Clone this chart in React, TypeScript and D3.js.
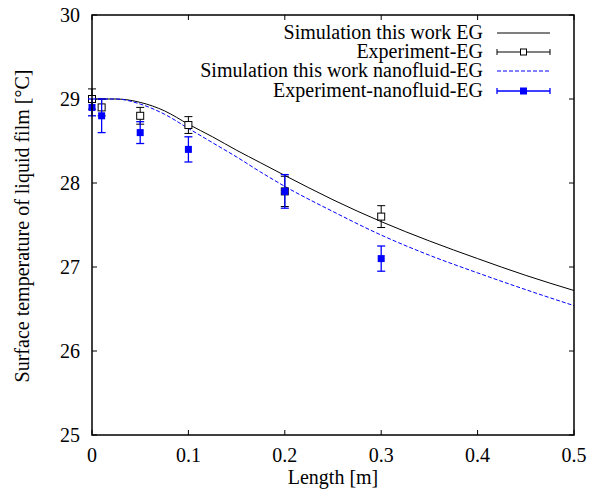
import React from "react";
import * as d3 from "d3";

const simX = [0, 0.025, 0.05, 0.075, 0.1, 0.125, 0.15, 0.175, 0.2, 0.25, 0.3, 0.35, 0.4, 0.45, 0.5];
const simEG = [29.0, 29.0, 28.96, 28.86, 28.7, 28.55, 28.39, 28.24, 28.09, 27.8, 27.54, 27.31, 27.1, 26.9, 26.72];
const simNF = [29.0, 29.0, 28.94, 28.82, 28.65, 28.48, 28.31, 28.13, 27.96, 27.66, 27.38, 27.14, 26.93, 26.73, 26.54];

const expX = [0, 0.01, 0.05, 0.1, 0.2, 0.3];
const expEG = [29.0, 28.9, 28.8, 28.69, 27.9, 27.6];
const expEGErr = [0.12, 0.1, 0.1, 0.1, 0.18, 0.13];
const expNF = [28.9, 28.8, 28.6, 28.4, 27.9, 27.1];
const expNFErr = [0.1, 0.2, 0.13, 0.15, 0.2, 0.15];

const xTicks = [0, 0.1, 0.2, 0.3, 0.4, 0.5];
const yTicks = [25, 26, 27, 28, 29, 30];
const legendLabels = [
  "Simulation this work EG",
  "Experiment-EG",
  "Simulation this work nanofluid-EG",
  "Experiment-nanofluid-EG",
];

const W = 591, H = 501;
const L = 92, R = 574, T = 15, B = 435;
const FONT = "Liberation Serif, Times New Roman, Times, DejaVu Serif, serif";
const BLUE = "#0000ff";

export default function App() {
  const x = d3.scaleLinear().domain([0, 0.5]).range([L, R]);
  const y = d3.scaleLinear().domain([25, 30]).range([B, T]);
  const line = d3
    .line<number>()
    .x((_, i) => x(simX[i]))
    .y((d) => y(d))
    .curve(d3.curveMonotoneX);

  const errBar = (xi: number, v: number, e: number, color: string, key: string, sw = 1) => {
    const cx = x(xi);
    return (
      <g key={key} stroke={color} strokeWidth={sw}>
        <line x1={cx} x2={cx} y1={y(v - e)} y2={y(v + e)} />
        <line x1={cx - 4} x2={cx + 4} y1={y(v - e)} y2={y(v - e)} />
        <line x1={cx - 4} x2={cx + 4} y1={y(v + e)} y2={y(v + e)} />
      </g>
    );
  };

  const legY = [33, 52, 71, 91];
  const legTextX = 483;
  const ls0 = 497, ls1 = 550;
  const ts = { fontFamily: FONT };

  return (
    <svg width={W} height={H} style={{ position: "absolute", left: 0, top: 0, background: "#fff" }}>
      <rect x={0} y={0} width={W} height={H} fill="#fff" />
      {xTicks.map((t) => (
        <g key={"xt" + t} stroke="#000" strokeWidth={1}>
          <line x1={x(t)} x2={x(t)} y1={B} y2={B - 5} />
          <line x1={x(t)} x2={x(t)} y1={T} y2={T + 5} />
        </g>
      ))}
      {yTicks.map((t) => (
        <g key={"yt" + t} stroke="#000" strokeWidth={1}>
          <line x1={L} x2={L + 5} y1={y(t)} y2={y(t)} />
          <line x1={R} x2={R - 5} y1={y(t)} y2={y(t)} />
        </g>
      ))}
      {xTicks.map((t) => (
        <text key={"xl" + t} x={x(t)} y={B + 26.5} textAnchor="middle" style={ts} fontSize={20} fill="#000">
          {t === 0 ? "0" : String(t)}
        </text>
      ))}
      {yTicks.map((t) => (
        <text key={"yl" + t} x={L - 12} y={y(t) + 7} textAnchor="end" style={ts} fontSize={20} fill="#000">
          {t}
        </text>
      ))}
      <text x={(L + R) / 2} y={484} textAnchor="middle" style={ts} fontSize={20} fill="#000">
        Length [m]
      </text>
      <text
        transform={`translate(29,226) rotate(-90)`}
        textAnchor="middle"
        style={ts}
        fontSize={20}
        fill="#000"
      >
        Surface temperature of liquid film [°C]
      </text>

      <path d={line(simEG) || ""} fill="none" stroke="#000" strokeWidth={1} />
      <path d={line(simNF) || ""} fill="none" stroke={BLUE} strokeWidth={1} strokeDasharray="4,2" />

      {expX.map((xi, i) => errBar(xi, expEG[i], expEGErr[i], "#000", "eeg" + i))}
      {expX.map((xi, i) => (
        <rect key={"eg" + i} x={x(xi) - 3.5} y={y(expEG[i]) - 3.5} width={7} height={7} fill="#fff" stroke="#000" strokeWidth={1} />
      ))}
      {expX.map((xi, i) => errBar(xi, expNF[i], expNFErr[i], BLUE, "enf" + i, 1.3))}
      {expX.map((xi, i) => (
        <rect key={"nf" + i} x={x(xi) - 3.5} y={y(expNF[i]) - 3.5} width={7} height={7} fill={BLUE} />
      ))}

      {legendLabels.map((lab, i) => (
        <text key={"lg" + i} x={legTextX} y={legY[i] + 6} textAnchor="end" style={ts} fontSize={20} fill="#000">
          {lab}
        </text>
      ))}
      <line x1={ls0} x2={ls1} y1={legY[0]} y2={legY[0]} stroke="#000" strokeWidth={1} />
      <g stroke="#000" strokeWidth={1}>
        <line x1={ls0} x2={ls1} y1={legY[1]} y2={legY[1]} />
        <line x1={ls0} x2={ls0} y1={legY[1] - 3} y2={legY[1] + 3} />
        <line x1={ls1} x2={ls1} y1={legY[1] - 3} y2={legY[1] + 3} />
        <rect x={(ls0 + ls1) / 2 - 3} y={legY[1] - 3} width={6} height={6} fill="#fff" />
      </g>
      <line x1={ls0} x2={ls1} y1={legY[2]} y2={legY[2]} stroke={BLUE} strokeWidth={1} strokeDasharray="4,2" />
      <g stroke={BLUE} strokeWidth={1.3}>
        <line x1={ls0} x2={ls1} y1={legY[3]} y2={legY[3]} />
        <line x1={ls0} x2={ls0} y1={legY[3] - 3} y2={legY[3] + 3} />
        <line x1={ls1} x2={ls1} y1={legY[3] - 3} y2={legY[3] + 3} />
      </g>
      <rect x={(ls0 + ls1) / 2 - 3.5} y={legY[3] - 3.5} width={7} height={7} fill={BLUE} />

      <rect x={L} y={T} width={R - L} height={B - T} fill="none" stroke="#000" strokeWidth={1.5} />
    </svg>
  );
}
